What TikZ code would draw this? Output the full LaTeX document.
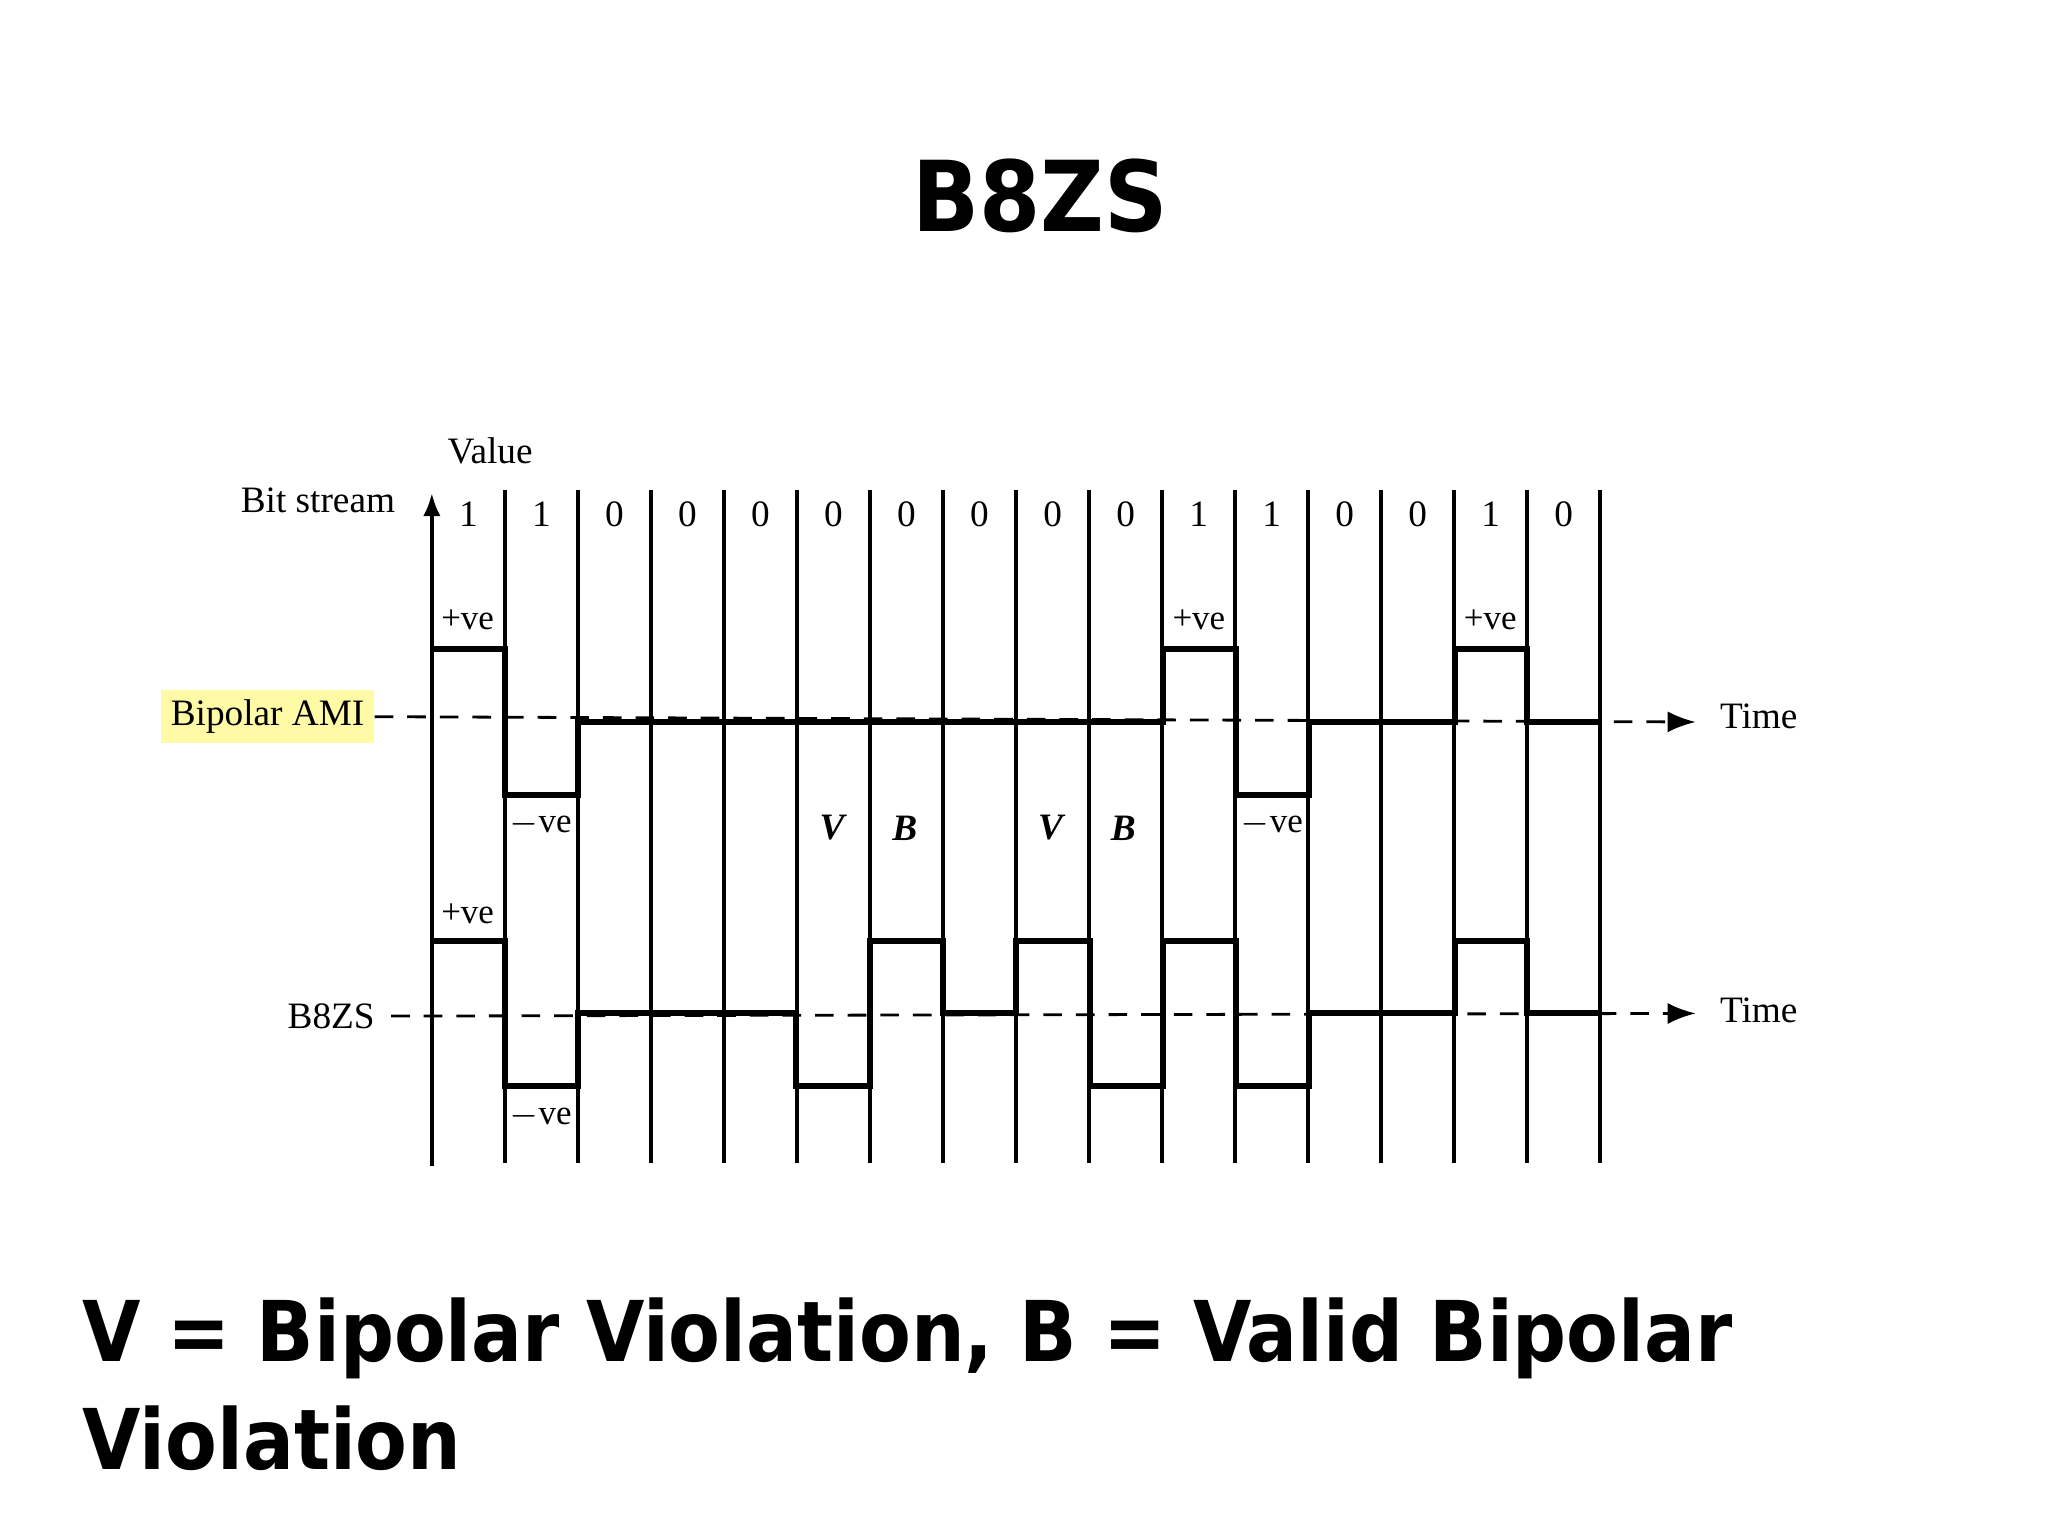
\documentclass[tikz,border=0pt]{standalone}
\usepackage{fontspec}
\setmainfont{Liberation Serif}
\newfontfamily\headfont{DejaVu Sans Condensed}
\usetikzlibrary{arrows.meta}
\begin{document}
\begin{tikzpicture}[x=0.01cm,y=-0.01cm,
  sig/.style={line width=1.3pt},
  grid/.style={line width=0.9pt},
  base/.style={dashed,line width=0.6pt,dash pattern=on 4pt off 3pt},
  lbl/.style={font=\fontsize{8}{10}\selectfont},
  vb/.style={font=\fontsize{8}{10}\selectfont\itshape\bfseries},
  pm/.style={font=\fontsize{7.5}{9}\selectfont,inner sep=0.5pt}]
\useasboundingbox (0,0) rectangle (1546,1160);
\node[font=\headfont\bfseries\fontsize{21}{25}\selectfont] (title) at (785,148) {B8ZS};
% grid
\draw[grid,-{Latex[length=5pt]}] (326,880) -- (326,372);
\foreach \i in {1,...,16} \draw[grid] ({326+55.125*\i},370) -- ({326+55.125*\i},878);
% bits
\foreach \b [count=\i] in {1,1,0,0,0,0,0,0,0,0,1,1,0,0,1,0}
  \node[lbl] (bit\i) at ({326+55.125*(\i-0.5)},388) {\b};
\node[lbl] (value) at (370,340) {Value};
\node[lbl] (bs) at (240,378) {Bit stream};
\node[lbl,fill=yellow!35,inner sep=2pt] (ami) at (202,541) {Bipolar AMI};
\node[lbl] (b8) at (250,767) {B8ZS};
\coordinate (amiEnd) at (1280,545);
\coordinate (b8End) at (1280,765);
\node[lbl,anchor=west] (t1) at (1286,541) {Time};
\node[lbl,anchor=west] (t2) at (1286,763) {Time};
\draw[base,-{Latex[length=6pt]}] (ami.east) -- (amiEnd);
\draw[base,-{Latex[length=6pt]}] (b8.east) -- (b8End);
% AMI signal
\draw[sig] (326,490) -- (381,490) -- (381,600) -- (436,600) -- (436,545) -- (878,545) -- (878,490) -- (933,490) -- (933,600) -- (988,600) -- (988,545) -- (1098,545) -- (1098,490) -- (1153,490) -- (1153,545) -- (1208,545);
% B8ZS signal
\draw[sig] (326,710) -- (381,710) -- (381,820) -- (436,820) -- (436,765) -- (601,765) -- (601,820) -- (657,820) -- (657,710) -- (712,710) -- (712,765) -- (767,765) -- (767,710) -- (823,710) -- (823,820) -- (878,820) -- (878,710) -- (933,710) -- (933,820) -- (988,820) -- (988,765) -- (1098,765) -- (1098,710) -- (1153,710) -- (1153,765) -- (1208,765);
% labels
\node[pm] (p1) at (353,468) {+ve};
\node[pm] (m1) at (408,622) {$-$ve};
\node[pm] (p2) at (905,468) {+ve};
\node[pm] (m2) at (960,622) {$-$ve};
\node[pm] (p3) at (1125,468) {+ve};
\node[pm] (p4) at (353,690) {+ve};
\node[pm] (m3) at (408,843) {$-$ve};
\node[vb] (v1) at (628,625) {V};
\node[vb] (bb1) at (683,625) {B};
\node[vb] (v2) at (793,625) {V};
\node[vb] (bb2) at (848,625) {B};
% bottom
\node[anchor=west,font=\headfont\bfseries\fontsize{18}{21}\selectfont] (l1) at (50,1010) {V = Bipolar Violation, B = Valid Bipolar};
\node[anchor=west,font=\headfont\bfseries\fontsize{18}{21}\selectfont] (l2) at (50,1086) {Violation};
\end{tikzpicture}
\end{document}
